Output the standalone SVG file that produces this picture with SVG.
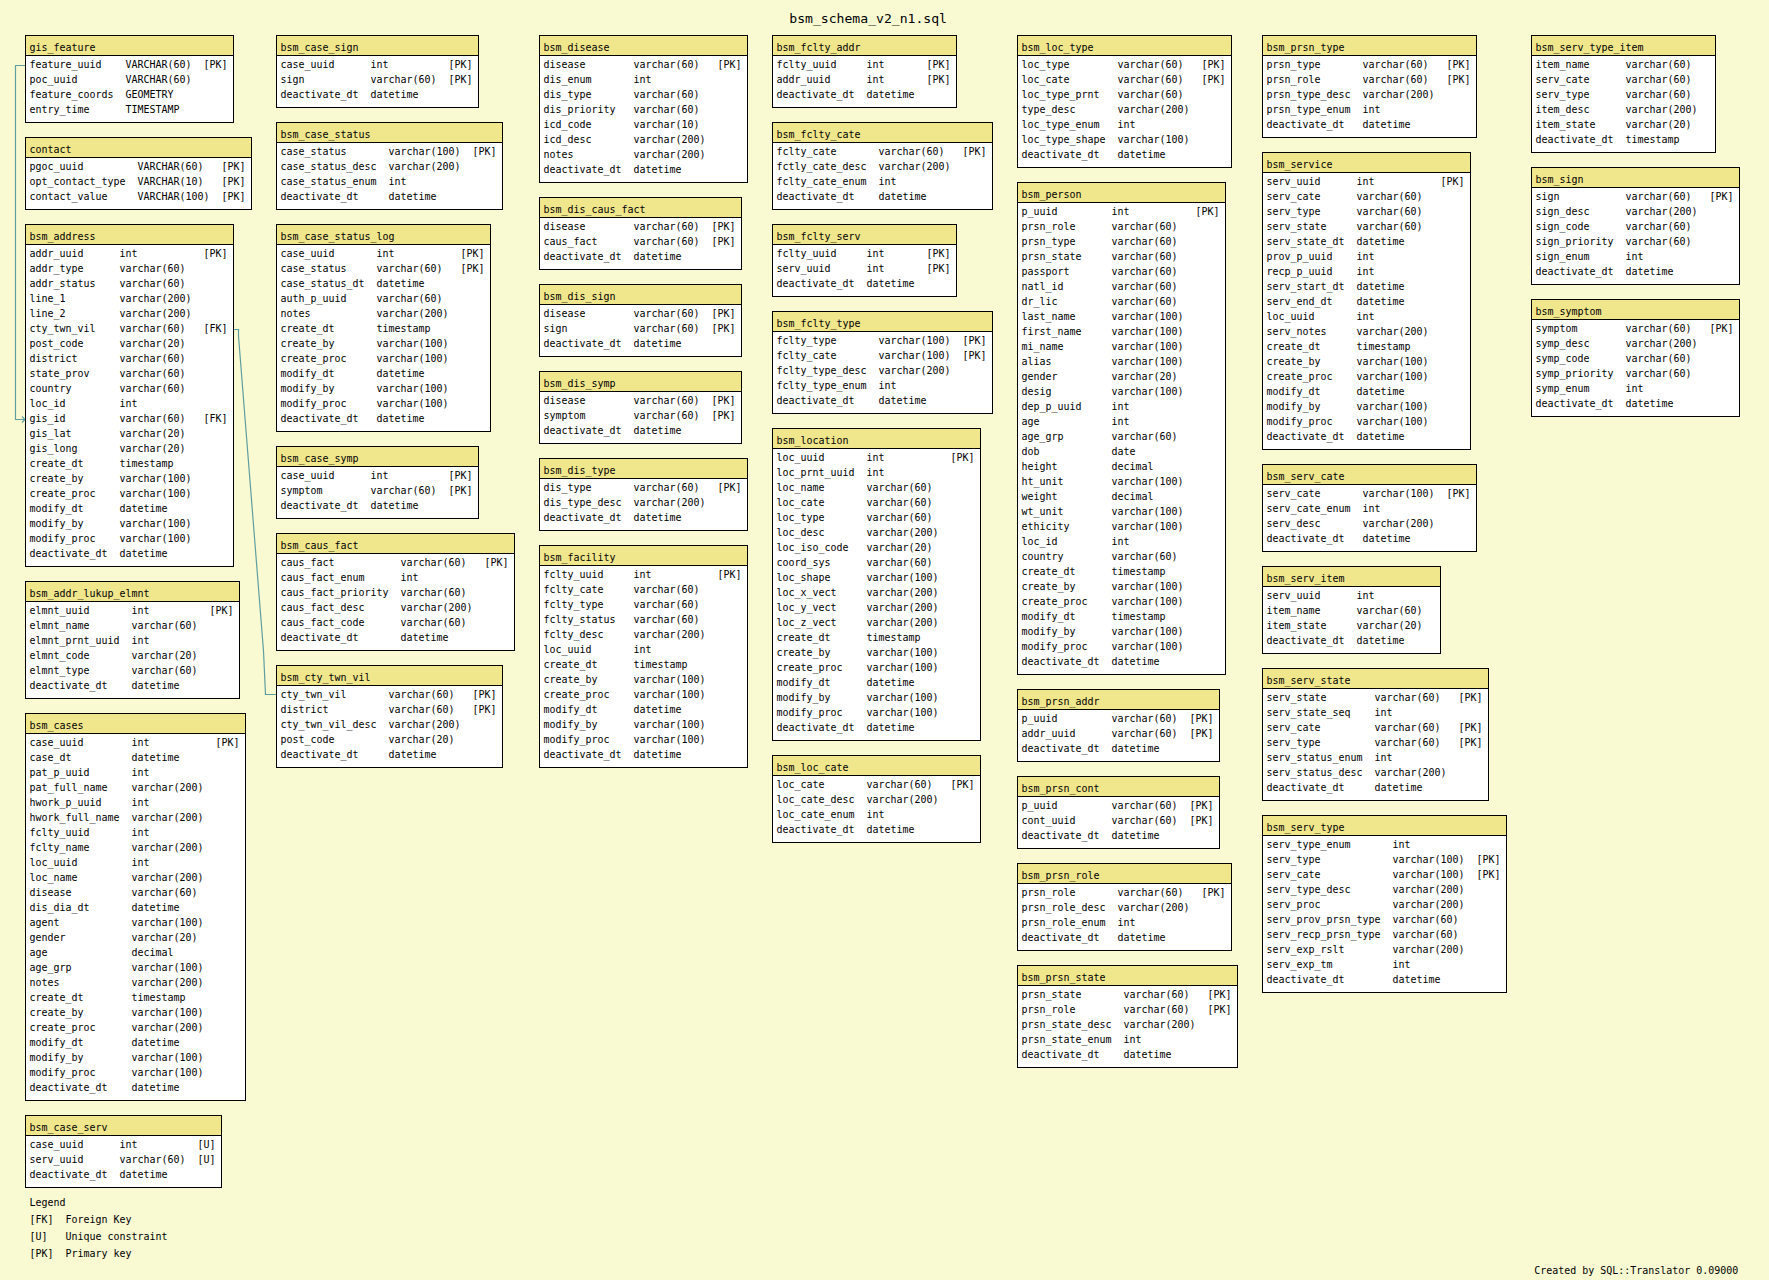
<svg xmlns="http://www.w3.org/2000/svg" width="1769" height="1280" viewBox="0 0 1769 1280">
<defs>
<style>
text{font-family:"DejaVu Sans Mono","Liberation Mono",monospace;font-size:9.97px;fill:#000}
.ttl{font-size:13.1px}
.b{fill:#fff;stroke:#000;stroke-width:1}
.h{fill:#f0e68c;stroke:#000;stroke-width:1}
.c{fill:none;stroke:#5f9ea0;stroke-width:1.2}
</style>
<marker id="ah" markerWidth="8" markerHeight="8" refX="4" refY="4" orient="auto" markerUnits="userSpaceOnUse"><path d="M1,1 L4,4 L1,7" fill="none" stroke="#5f9ea0" stroke-width="1.1"/></marker>
</defs>
<rect width="1769" height="1280" fill="#fafad2"/>
<text class="ttl" x="789.3" y="22.7">bsm_schema_v2_n1.sql</text>

<g id="connectors">
<path class="c" d="M25.5,65.5 H15.5 V419.5 H25" marker-end="url(#ah)"/>
<path class="c" d="M276.5,694.5 H265.5 L263.5,651 L238.5,336 V329.5 H231" marker-end="url(#ah)"/>
</g>

<!-- Column 1 -->
<g id="gis_feature" transform="translate(25.5,35.5)">
<rect class="b" width="208" height="87"/><rect class="h" width="208" height="20"/>
<text x="4" y="15.5">gis_feature</text>
<text y="32"><tspan x="4">feature_uuid</tspan><tspan x="100">VARCHAR(60)</tspan><tspan x="178">[PK]</tspan></text>
<text y="47"><tspan x="4">poc_uuid</tspan><tspan x="100">VARCHAR(60)</tspan></text>
<text y="62"><tspan x="4">feature_coords</tspan><tspan x="100">GEOMETRY</tspan></text>
<text y="77"><tspan x="4">entry_time</tspan><tspan x="100">TIMESTAMP</tspan></text>
</g>
<g id="contact" transform="translate(25.5,137.5)">
<rect class="b" width="226" height="72"/><rect class="h" width="226" height="20"/>
<text x="4" y="15.5">contact</text>
<text y="32"><tspan x="4">pgoc_uuid</tspan><tspan x="112">VARCHAR(60)</tspan><tspan x="196">[PK]</tspan></text>
<text y="47"><tspan x="4">opt_contact_type</tspan><tspan x="112">VARCHAR(10)</tspan><tspan x="196">[PK]</tspan></text>
<text y="62"><tspan x="4">contact_value</tspan><tspan x="112">VARCHAR(100)</tspan><tspan x="196">[PK]</tspan></text>
</g>
<g id="bsm_address" transform="translate(25.5,224.5)">
<rect class="b" width="208" height="342"/><rect class="h" width="208" height="20"/>
<text x="4" y="15.5">bsm_address</text>
<text y="32"><tspan x="4">addr_uuid</tspan><tspan x="94">int</tspan><tspan x="178">[PK]</tspan></text>
<text y="47"><tspan x="4">addr_type</tspan><tspan x="94">varchar(60)</tspan></text>
<text y="62"><tspan x="4">addr_status</tspan><tspan x="94">varchar(60)</tspan></text>
<text y="77"><tspan x="4">line_1</tspan><tspan x="94">varchar(200)</tspan></text>
<text y="92"><tspan x="4">line_2</tspan><tspan x="94">varchar(200)</tspan></text>
<text y="107"><tspan x="4">cty_twn_vil</tspan><tspan x="94">varchar(60)</tspan><tspan x="178">[FK]</tspan></text>
<text y="122"><tspan x="4">post_code</tspan><tspan x="94">varchar(20)</tspan></text>
<text y="137"><tspan x="4">district</tspan><tspan x="94">varchar(60)</tspan></text>
<text y="152"><tspan x="4">state_prov</tspan><tspan x="94">varchar(60)</tspan></text>
<text y="167"><tspan x="4">country</tspan><tspan x="94">varchar(60)</tspan></text>
<text y="182"><tspan x="4">loc_id</tspan><tspan x="94">int</tspan></text>
<text y="197"><tspan x="4">gis_id</tspan><tspan x="94">varchar(60)</tspan><tspan x="178">[FK]</tspan></text>
<text y="212"><tspan x="4">gis_lat</tspan><tspan x="94">varchar(20)</tspan></text>
<text y="227"><tspan x="4">gis_long</tspan><tspan x="94">varchar(20)</tspan></text>
<text y="242"><tspan x="4">create_dt</tspan><tspan x="94">timestamp</tspan></text>
<text y="257"><tspan x="4">create_by</tspan><tspan x="94">varchar(100)</tspan></text>
<text y="272"><tspan x="4">create_proc</tspan><tspan x="94">varchar(100)</tspan></text>
<text y="287"><tspan x="4">modify_dt</tspan><tspan x="94">datetime</tspan></text>
<text y="302"><tspan x="4">modify_by</tspan><tspan x="94">varchar(100)</tspan></text>
<text y="317"><tspan x="4">modify_proc</tspan><tspan x="94">varchar(100)</tspan></text>
<text y="332"><tspan x="4">deactivate_dt</tspan><tspan x="94">datetime</tspan></text>
</g>
<g id="bsm_addr_lukup_elmnt" transform="translate(25.5,581.5)">
<rect class="b" width="214" height="117"/><rect class="h" width="214" height="20"/>
<text x="4" y="15.5">bsm_addr_lukup_elmnt</text>
<text y="32"><tspan x="4">elmnt_uuid</tspan><tspan x="106">int</tspan><tspan x="184">[PK]</tspan></text>
<text y="47"><tspan x="4">elmnt_name</tspan><tspan x="106">varchar(60)</tspan></text>
<text y="62"><tspan x="4">elmnt_prnt_uuid</tspan><tspan x="106">int</tspan></text>
<text y="77"><tspan x="4">elmnt_code</tspan><tspan x="106">varchar(20)</tspan></text>
<text y="92"><tspan x="4">elmnt_type</tspan><tspan x="106">varchar(60)</tspan></text>
<text y="107"><tspan x="4">deactivate_dt</tspan><tspan x="106">datetime</tspan></text>
</g>
<g id="bsm_cases" transform="translate(25.5,713.5)">
<rect class="b" width="220" height="387"/><rect class="h" width="220" height="20"/>
<text x="4" y="15.5">bsm_cases</text>
<text y="32"><tspan x="4">case_uuid</tspan><tspan x="106">int</tspan><tspan x="190">[PK]</tspan></text>
<text y="47"><tspan x="4">case_dt</tspan><tspan x="106">datetime</tspan></text>
<text y="62"><tspan x="4">pat_p_uuid</tspan><tspan x="106">int</tspan></text>
<text y="77"><tspan x="4">pat_full_name</tspan><tspan x="106">varchar(200)</tspan></text>
<text y="92"><tspan x="4">hwork_p_uuid</tspan><tspan x="106">int</tspan></text>
<text y="107"><tspan x="4">hwork_full_name</tspan><tspan x="106">varchar(200)</tspan></text>
<text y="122"><tspan x="4">fclty_uuid</tspan><tspan x="106">int</tspan></text>
<text y="137"><tspan x="4">fclty_name</tspan><tspan x="106">varchar(200)</tspan></text>
<text y="152"><tspan x="4">loc_uuid</tspan><tspan x="106">int</tspan></text>
<text y="167"><tspan x="4">loc_name</tspan><tspan x="106">varchar(200)</tspan></text>
<text y="182"><tspan x="4">disease</tspan><tspan x="106">varchar(60)</tspan></text>
<text y="197"><tspan x="4">dis_dia_dt</tspan><tspan x="106">datetime</tspan></text>
<text y="212"><tspan x="4">agent</tspan><tspan x="106">varchar(100)</tspan></text>
<text y="227"><tspan x="4">gender</tspan><tspan x="106">varchar(20)</tspan></text>
<text y="242"><tspan x="4">age</tspan><tspan x="106">decimal</tspan></text>
<text y="257"><tspan x="4">age_grp</tspan><tspan x="106">varchar(100)</tspan></text>
<text y="272"><tspan x="4">notes</tspan><tspan x="106">varchar(200)</tspan></text>
<text y="287"><tspan x="4">create_dt</tspan><tspan x="106">timestamp</tspan></text>
<text y="302"><tspan x="4">create_by</tspan><tspan x="106">varchar(100)</tspan></text>
<text y="317"><tspan x="4">create_proc</tspan><tspan x="106">varchar(200)</tspan></text>
<text y="332"><tspan x="4">modify_dt</tspan><tspan x="106">datetime</tspan></text>
<text y="347"><tspan x="4">modify_by</tspan><tspan x="106">varchar(100)</tspan></text>
<text y="362"><tspan x="4">modify_proc</tspan><tspan x="106">varchar(100)</tspan></text>
<text y="377"><tspan x="4">deactivate_dt</tspan><tspan x="106">datetime</tspan></text>
</g>
<g id="bsm_case_serv" transform="translate(25.5,1115.5)">
<rect class="b" width="196" height="72"/><rect class="h" width="196" height="20"/>
<text x="4" y="15.5">bsm_case_serv</text>
<text y="32"><tspan x="4">case_uuid</tspan><tspan x="94">int</tspan><tspan x="172">[U]</tspan></text>
<text y="47"><tspan x="4">serv_uuid</tspan><tspan x="94">varchar(60)</tspan><tspan x="172">[U]</tspan></text>
<text y="62"><tspan x="4">deactivate_dt</tspan><tspan x="94">datetime</tspan></text>
</g>
<g id="legend">
<text x="29.5" y="1205.5">Legend</text>
<text y="1222.5"><tspan x="29.5">[FK]</tspan><tspan x="65.5">Foreign Key</tspan></text>
<text y="1239.5"><tspan x="29.5">[U]</tspan><tspan x="65.5">Unique constraint</tspan></text>
<text y="1256.5"><tspan x="29.5">[PK]</tspan><tspan x="65.5">Primary key</tspan></text>
</g>

<!-- Column 2 -->
<g id="bsm_case_sign" transform="translate(276.5,35.5)">
<rect class="b" width="202" height="72"/><rect class="h" width="202" height="20"/>
<text x="4" y="15.5">bsm_case_sign</text>
<text y="32"><tspan x="4">case_uuid</tspan><tspan x="94">int</tspan><tspan x="172">[PK]</tspan></text>
<text y="47"><tspan x="4">sign</tspan><tspan x="94">varchar(60)</tspan><tspan x="172">[PK]</tspan></text>
<text y="62"><tspan x="4">deactivate_dt</tspan><tspan x="94">datetime</tspan></text>
</g>
<g id="bsm_case_status" transform="translate(276.5,122.5)">
<rect class="b" width="226" height="87"/><rect class="h" width="226" height="20"/>
<text x="4" y="15.5">bsm_case_status</text>
<text y="32"><tspan x="4">case_status</tspan><tspan x="112">varchar(100)</tspan><tspan x="196">[PK]</tspan></text>
<text y="47"><tspan x="4">case_status_desc</tspan><tspan x="112">varchar(200)</tspan></text>
<text y="62"><tspan x="4">case_status_enum</tspan><tspan x="112">int</tspan></text>
<text y="77"><tspan x="4">deactivate_dt</tspan><tspan x="112">datetime</tspan></text>
</g>
<g id="bsm_case_status_log" transform="translate(276.5,224.5)">
<rect class="b" width="214" height="207"/><rect class="h" width="214" height="20"/>
<text x="4" y="15.5">bsm_case_status_log</text>
<text y="32"><tspan x="4">case_uuid</tspan><tspan x="100">int</tspan><tspan x="184">[PK]</tspan></text>
<text y="47"><tspan x="4">case_status</tspan><tspan x="100">varchar(60)</tspan><tspan x="184">[PK]</tspan></text>
<text y="62"><tspan x="4">case_status_dt</tspan><tspan x="100">datetime</tspan></text>
<text y="77"><tspan x="4">auth_p_uuid</tspan><tspan x="100">varchar(60)</tspan></text>
<text y="92"><tspan x="4">notes</tspan><tspan x="100">varchar(200)</tspan></text>
<text y="107"><tspan x="4">create_dt</tspan><tspan x="100">timestamp</tspan></text>
<text y="122"><tspan x="4">create_by</tspan><tspan x="100">varchar(100)</tspan></text>
<text y="137"><tspan x="4">create_proc</tspan><tspan x="100">varchar(100)</tspan></text>
<text y="152"><tspan x="4">modify_dt</tspan><tspan x="100">datetime</tspan></text>
<text y="167"><tspan x="4">modify_by</tspan><tspan x="100">varchar(100)</tspan></text>
<text y="182"><tspan x="4">modify_proc</tspan><tspan x="100">varchar(100)</tspan></text>
<text y="197"><tspan x="4">deactivate_dt</tspan><tspan x="100">datetime</tspan></text>
</g>
<g id="bsm_case_symp" transform="translate(276.5,446.5)">
<rect class="b" width="202" height="72"/><rect class="h" width="202" height="20"/>
<text x="4" y="15.5">bsm_case_symp</text>
<text y="32"><tspan x="4">case_uuid</tspan><tspan x="94">int</tspan><tspan x="172">[PK]</tspan></text>
<text y="47"><tspan x="4">symptom</tspan><tspan x="94">varchar(60)</tspan><tspan x="172">[PK]</tspan></text>
<text y="62"><tspan x="4">deactivate_dt</tspan><tspan x="94">datetime</tspan></text>
</g>
<g id="bsm_caus_fact" transform="translate(276.5,533.5)">
<rect class="b" width="238" height="117"/><rect class="h" width="238" height="20"/>
<text x="4" y="15.5">bsm_caus_fact</text>
<text y="32"><tspan x="4">caus_fact</tspan><tspan x="124">varchar(60)</tspan><tspan x="208">[PK]</tspan></text>
<text y="47"><tspan x="4">caus_fact_enum</tspan><tspan x="124">int</tspan></text>
<text y="62"><tspan x="4">caus_fact_priority</tspan><tspan x="124">varchar(60)</tspan></text>
<text y="77"><tspan x="4">caus_fact_desc</tspan><tspan x="124">varchar(200)</tspan></text>
<text y="92"><tspan x="4">caus_fact_code</tspan><tspan x="124">varchar(60)</tspan></text>
<text y="107"><tspan x="4">deactivate_dt</tspan><tspan x="124">datetime</tspan></text>
</g>
<g id="bsm_cty_twn_vil" transform="translate(276.5,665.5)">
<rect class="b" width="226" height="102"/><rect class="h" width="226" height="20"/>
<text x="4" y="15.5">bsm_cty_twn_vil</text>
<text y="32"><tspan x="4">cty_twn_vil</tspan><tspan x="112">varchar(60)</tspan><tspan x="196">[PK]</tspan></text>
<text y="47"><tspan x="4">district</tspan><tspan x="112">varchar(60)</tspan><tspan x="196">[PK]</tspan></text>
<text y="62"><tspan x="4">cty_twn_vil_desc</tspan><tspan x="112">varchar(200)</tspan></text>
<text y="77"><tspan x="4">post_code</tspan><tspan x="112">varchar(20)</tspan></text>
<text y="92"><tspan x="4">deactivate_dt</tspan><tspan x="112">datetime</tspan></text>
</g>

<!-- Column 3 -->
<g id="bsm_disease" transform="translate(539.5,35.5)">
<rect class="b" width="208" height="147"/><rect class="h" width="208" height="20"/>
<text x="4" y="15.5">bsm_disease</text>
<text y="32"><tspan x="4">disease</tspan><tspan x="94">varchar(60)</tspan><tspan x="178">[PK]</tspan></text>
<text y="47"><tspan x="4">dis_enum</tspan><tspan x="94">int</tspan></text>
<text y="62"><tspan x="4">dis_type</tspan><tspan x="94">varchar(60)</tspan></text>
<text y="77"><tspan x="4">dis_priority</tspan><tspan x="94">varchar(60)</tspan></text>
<text y="92"><tspan x="4">icd_code</tspan><tspan x="94">varchar(10)</tspan></text>
<text y="107"><tspan x="4">icd_desc</tspan><tspan x="94">varchar(200)</tspan></text>
<text y="122"><tspan x="4">notes</tspan><tspan x="94">varchar(200)</tspan></text>
<text y="137"><tspan x="4">deactivate_dt</tspan><tspan x="94">datetime</tspan></text>
</g>
<g id="bsm_dis_caus_fact" transform="translate(539.5,197.5)">
<rect class="b" width="202" height="72"/><rect class="h" width="202" height="20"/>
<text x="4" y="15.5">bsm_dis_caus_fact</text>
<text y="32"><tspan x="4">disease</tspan><tspan x="94">varchar(60)</tspan><tspan x="172">[PK]</tspan></text>
<text y="47"><tspan x="4">caus_fact</tspan><tspan x="94">varchar(60)</tspan><tspan x="172">[PK]</tspan></text>
<text y="62"><tspan x="4">deactivate_dt</tspan><tspan x="94">datetime</tspan></text>
</g>
<g id="bsm_dis_sign" transform="translate(539.5,284.5)">
<rect class="b" width="202" height="72"/><rect class="h" width="202" height="20"/>
<text x="4" y="15.5">bsm_dis_sign</text>
<text y="32"><tspan x="4">disease</tspan><tspan x="94">varchar(60)</tspan><tspan x="172">[PK]</tspan></text>
<text y="47"><tspan x="4">sign</tspan><tspan x="94">varchar(60)</tspan><tspan x="172">[PK]</tspan></text>
<text y="62"><tspan x="4">deactivate_dt</tspan><tspan x="94">datetime</tspan></text>
</g>
<g id="bsm_dis_symp" transform="translate(539.5,371.5)">
<rect class="b" width="202" height="72"/><rect class="h" width="202" height="20"/>
<text x="4" y="15.5">bsm_dis_symp</text>
<text y="32"><tspan x="4">disease</tspan><tspan x="94">varchar(60)</tspan><tspan x="172">[PK]</tspan></text>
<text y="47"><tspan x="4">symptom</tspan><tspan x="94">varchar(60)</tspan><tspan x="172">[PK]</tspan></text>
<text y="62"><tspan x="4">deactivate_dt</tspan><tspan x="94">datetime</tspan></text>
</g>
<g id="bsm_dis_type" transform="translate(539.5,458.5)">
<rect class="b" width="208" height="72"/><rect class="h" width="208" height="20"/>
<text x="4" y="15.5">bsm_dis_type</text>
<text y="32"><tspan x="4">dis_type</tspan><tspan x="94">varchar(60)</tspan><tspan x="178">[PK]</tspan></text>
<text y="47"><tspan x="4">dis_type_desc</tspan><tspan x="94">varchar(200)</tspan></text>
<text y="62"><tspan x="4">deactivate_dt</tspan><tspan x="94">datetime</tspan></text>
</g>
<g id="bsm_facility" transform="translate(539.5,545.5)">
<rect class="b" width="208" height="222"/><rect class="h" width="208" height="20"/>
<text x="4" y="15.5">bsm_facility</text>
<text y="32"><tspan x="4">fclty_uuid</tspan><tspan x="94">int</tspan><tspan x="178">[PK]</tspan></text>
<text y="47"><tspan x="4">fclty_cate</tspan><tspan x="94">varchar(60)</tspan></text>
<text y="62"><tspan x="4">fclty_type</tspan><tspan x="94">varchar(60)</tspan></text>
<text y="77"><tspan x="4">fclty_status</tspan><tspan x="94">varchar(60)</tspan></text>
<text y="92"><tspan x="4">fclty_desc</tspan><tspan x="94">varchar(200)</tspan></text>
<text y="107"><tspan x="4">loc_uuid</tspan><tspan x="94">int</tspan></text>
<text y="122"><tspan x="4">create_dt</tspan><tspan x="94">timestamp</tspan></text>
<text y="137"><tspan x="4">create_by</tspan><tspan x="94">varchar(100)</tspan></text>
<text y="152"><tspan x="4">create_proc</tspan><tspan x="94">varchar(100)</tspan></text>
<text y="167"><tspan x="4">modify_dt</tspan><tspan x="94">datetime</tspan></text>
<text y="182"><tspan x="4">modify_by</tspan><tspan x="94">varchar(100)</tspan></text>
<text y="197"><tspan x="4">modify_proc</tspan><tspan x="94">varchar(100)</tspan></text>
<text y="212"><tspan x="4">deactivate_dt</tspan><tspan x="94">datetime</tspan></text>
</g>

<!-- Column 4 -->
<g id="bsm_fclty_addr" transform="translate(772.5,35.5)">
<rect class="b" width="184" height="72"/><rect class="h" width="184" height="20"/>
<text x="4" y="15.5">bsm_fclty_addr</text>
<text y="32"><tspan x="4">fclty_uuid</tspan><tspan x="94">int</tspan><tspan x="154">[PK]</tspan></text>
<text y="47"><tspan x="4">addr_uuid</tspan><tspan x="94">int</tspan><tspan x="154">[PK]</tspan></text>
<text y="62"><tspan x="4">deactivate_dt</tspan><tspan x="94">datetime</tspan></text>
</g>
<g id="bsm_fclty_cate" transform="translate(772.5,122.5)">
<rect class="b" width="220" height="87"/><rect class="h" width="220" height="20"/>
<text x="4" y="15.5">bsm_fclty_cate</text>
<text y="32"><tspan x="4">fclty_cate</tspan><tspan x="106">varchar(60)</tspan><tspan x="190">[PK]</tspan></text>
<text y="47"><tspan x="4">fctly_cate_desc</tspan><tspan x="106">varchar(200)</tspan></text>
<text y="62"><tspan x="4">fclty_cate_enum</tspan><tspan x="106">int</tspan></text>
<text y="77"><tspan x="4">deactivate_dt</tspan><tspan x="106">datetime</tspan></text>
</g>
<g id="bsm_fclty_serv" transform="translate(772.5,224.5)">
<rect class="b" width="184" height="72"/><rect class="h" width="184" height="20"/>
<text x="4" y="15.5">bsm_fclty_serv</text>
<text y="32"><tspan x="4">fclty_uuid</tspan><tspan x="94">int</tspan><tspan x="154">[PK]</tspan></text>
<text y="47"><tspan x="4">serv_uuid</tspan><tspan x="94">int</tspan><tspan x="154">[PK]</tspan></text>
<text y="62"><tspan x="4">deactivate_dt</tspan><tspan x="94">datetime</tspan></text>
</g>
<g id="bsm_fclty_type" transform="translate(772.5,311.5)">
<rect class="b" width="220" height="102"/><rect class="h" width="220" height="20"/>
<text x="4" y="15.5">bsm_fclty_type</text>
<text y="32"><tspan x="4">fclty_type</tspan><tspan x="106">varchar(100)</tspan><tspan x="190">[PK]</tspan></text>
<text y="47"><tspan x="4">fclty_cate</tspan><tspan x="106">varchar(100)</tspan><tspan x="190">[PK]</tspan></text>
<text y="62"><tspan x="4">fclty_type_desc</tspan><tspan x="106">varchar(200)</tspan></text>
<text y="77"><tspan x="4">fclty_type_enum</tspan><tspan x="106">int</tspan></text>
<text y="92"><tspan x="4">deactivate_dt</tspan><tspan x="106">datetime</tspan></text>
</g>
<g id="bsm_location" transform="translate(772.5,428.5)">
<rect class="b" width="208" height="312"/><rect class="h" width="208" height="20"/>
<text x="4" y="15.5">bsm_location</text>
<text y="32"><tspan x="4">loc_uuid</tspan><tspan x="94">int</tspan><tspan x="178">[PK]</tspan></text>
<text y="47"><tspan x="4">loc_prnt_uuid</tspan><tspan x="94">int</tspan></text>
<text y="62"><tspan x="4">loc_name</tspan><tspan x="94">varchar(60)</tspan></text>
<text y="77"><tspan x="4">loc_cate</tspan><tspan x="94">varchar(60)</tspan></text>
<text y="92"><tspan x="4">loc_type</tspan><tspan x="94">varchar(60)</tspan></text>
<text y="107"><tspan x="4">loc_desc</tspan><tspan x="94">varchar(200)</tspan></text>
<text y="122"><tspan x="4">loc_iso_code</tspan><tspan x="94">varchar(20)</tspan></text>
<text y="137"><tspan x="4">coord_sys</tspan><tspan x="94">varchar(60)</tspan></text>
<text y="152"><tspan x="4">loc_shape</tspan><tspan x="94">varchar(100)</tspan></text>
<text y="167"><tspan x="4">loc_x_vect</tspan><tspan x="94">varchar(200)</tspan></text>
<text y="182"><tspan x="4">loc_y_vect</tspan><tspan x="94">varchar(200)</tspan></text>
<text y="197"><tspan x="4">loc_z_vect</tspan><tspan x="94">varchar(200)</tspan></text>
<text y="212"><tspan x="4">create_dt</tspan><tspan x="94">timestamp</tspan></text>
<text y="227"><tspan x="4">create_by</tspan><tspan x="94">varchar(100)</tspan></text>
<text y="242"><tspan x="4">create_proc</tspan><tspan x="94">varchar(100)</tspan></text>
<text y="257"><tspan x="4">modify_dt</tspan><tspan x="94">datetime</tspan></text>
<text y="272"><tspan x="4">modify_by</tspan><tspan x="94">varchar(100)</tspan></text>
<text y="287"><tspan x="4">modify_proc</tspan><tspan x="94">varchar(100)</tspan></text>
<text y="302"><tspan x="4">deactivate_dt</tspan><tspan x="94">datetime</tspan></text>
</g>
<g id="bsm_loc_cate" transform="translate(772.5,755.5)">
<rect class="b" width="208" height="87"/><rect class="h" width="208" height="20"/>
<text x="4" y="15.5">bsm_loc_cate</text>
<text y="32"><tspan x="4">loc_cate</tspan><tspan x="94">varchar(60)</tspan><tspan x="178">[PK]</tspan></text>
<text y="47"><tspan x="4">loc_cate_desc</tspan><tspan x="94">varchar(200)</tspan></text>
<text y="62"><tspan x="4">loc_cate_enum</tspan><tspan x="94">int</tspan></text>
<text y="77"><tspan x="4">deactivate_dt</tspan><tspan x="94">datetime</tspan></text>
</g>

<!-- Column 5 -->
<g id="bsm_loc_type" transform="translate(1017.5,35.5)">
<rect class="b" width="214" height="132"/><rect class="h" width="214" height="20"/>
<text x="4" y="15.5">bsm_loc_type</text>
<text y="32"><tspan x="4">loc_type</tspan><tspan x="100">varchar(60)</tspan><tspan x="184">[PK]</tspan></text>
<text y="47"><tspan x="4">loc_cate</tspan><tspan x="100">varchar(60)</tspan><tspan x="184">[PK]</tspan></text>
<text y="62"><tspan x="4">loc_type_prnt</tspan><tspan x="100">varchar(60)</tspan></text>
<text y="77"><tspan x="4">type_desc</tspan><tspan x="100">varchar(200)</tspan></text>
<text y="92"><tspan x="4">loc_type_enum</tspan><tspan x="100">int</tspan></text>
<text y="107"><tspan x="4">loc_type_shape</tspan><tspan x="100">varchar(100)</tspan></text>
<text y="122"><tspan x="4">deactivate_dt</tspan><tspan x="100">datetime</tspan></text>
</g>
<g id="bsm_person" transform="translate(1017.5,182.5)">
<rect class="b" width="208" height="492"/><rect class="h" width="208" height="20"/>
<text x="4" y="15.5">bsm_person</text>
<text y="32"><tspan x="4">p_uuid</tspan><tspan x="94">int</tspan><tspan x="178">[PK]</tspan></text>
<text y="47"><tspan x="4">prsn_role</tspan><tspan x="94">varchar(60)</tspan></text>
<text y="62"><tspan x="4">prsn_type</tspan><tspan x="94">varchar(60)</tspan></text>
<text y="77"><tspan x="4">prsn_state</tspan><tspan x="94">varchar(60)</tspan></text>
<text y="92"><tspan x="4">passport</tspan><tspan x="94">varchar(60)</tspan></text>
<text y="107"><tspan x="4">natl_id</tspan><tspan x="94">varchar(60)</tspan></text>
<text y="122"><tspan x="4">dr_lic</tspan><tspan x="94">varchar(60)</tspan></text>
<text y="137"><tspan x="4">last_name</tspan><tspan x="94">varchar(100)</tspan></text>
<text y="152"><tspan x="4">first_name</tspan><tspan x="94">varchar(100)</tspan></text>
<text y="167"><tspan x="4">mi_name</tspan><tspan x="94">varchar(100)</tspan></text>
<text y="182"><tspan x="4">alias</tspan><tspan x="94">varchar(100)</tspan></text>
<text y="197"><tspan x="4">gender</tspan><tspan x="94">varchar(20)</tspan></text>
<text y="212"><tspan x="4">desig</tspan><tspan x="94">varchar(100)</tspan></text>
<text y="227"><tspan x="4">dep_p_uuid</tspan><tspan x="94">int</tspan></text>
<text y="242"><tspan x="4">age</tspan><tspan x="94">int</tspan></text>
<text y="257"><tspan x="4">age_grp</tspan><tspan x="94">varchar(60)</tspan></text>
<text y="272"><tspan x="4">dob</tspan><tspan x="94">date</tspan></text>
<text y="287"><tspan x="4">height</tspan><tspan x="94">decimal</tspan></text>
<text y="302"><tspan x="4">ht_unit</tspan><tspan x="94">varchar(100)</tspan></text>
<text y="317"><tspan x="4">weight</tspan><tspan x="94">decimal</tspan></text>
<text y="332"><tspan x="4">wt_unit</tspan><tspan x="94">varchar(100)</tspan></text>
<text y="347"><tspan x="4">ethicity</tspan><tspan x="94">varchar(100)</tspan></text>
<text y="362"><tspan x="4">loc_id</tspan><tspan x="94">int</tspan></text>
<text y="377"><tspan x="4">country</tspan><tspan x="94">varchar(60)</tspan></text>
<text y="392"><tspan x="4">create_dt</tspan><tspan x="94">timestamp</tspan></text>
<text y="407"><tspan x="4">create_by</tspan><tspan x="94">varchar(100)</tspan></text>
<text y="422"><tspan x="4">create_proc</tspan><tspan x="94">varchar(100)</tspan></text>
<text y="437"><tspan x="4">modify_dt</tspan><tspan x="94">timestamp</tspan></text>
<text y="452"><tspan x="4">modify_by</tspan><tspan x="94">varchar(100)</tspan></text>
<text y="467"><tspan x="4">modify_proc</tspan><tspan x="94">varchar(100)</tspan></text>
<text y="482"><tspan x="4">deactivate_dt</tspan><tspan x="94">datetime</tspan></text>
</g>
<g id="bsm_prsn_addr" transform="translate(1017.5,689.5)">
<rect class="b" width="202" height="72"/><rect class="h" width="202" height="20"/>
<text x="4" y="15.5">bsm_prsn_addr</text>
<text y="32"><tspan x="4">p_uuid</tspan><tspan x="94">varchar(60)</tspan><tspan x="172">[PK]</tspan></text>
<text y="47"><tspan x="4">addr_uuid</tspan><tspan x="94">varchar(60)</tspan><tspan x="172">[PK]</tspan></text>
<text y="62"><tspan x="4">deactivate_dt</tspan><tspan x="94">datetime</tspan></text>
</g>
<g id="bsm_prsn_cont" transform="translate(1017.5,776.5)">
<rect class="b" width="202" height="72"/><rect class="h" width="202" height="20"/>
<text x="4" y="15.5">bsm_prsn_cont</text>
<text y="32"><tspan x="4">p_uuid</tspan><tspan x="94">varchar(60)</tspan><tspan x="172">[PK]</tspan></text>
<text y="47"><tspan x="4">cont_uuid</tspan><tspan x="94">varchar(60)</tspan><tspan x="172">[PK]</tspan></text>
<text y="62"><tspan x="4">deactivate_dt</tspan><tspan x="94">datetime</tspan></text>
</g>
<g id="bsm_prsn_role" transform="translate(1017.5,863.5)">
<rect class="b" width="214" height="87"/><rect class="h" width="214" height="20"/>
<text x="4" y="15.5">bsm_prsn_role</text>
<text y="32"><tspan x="4">prsn_role</tspan><tspan x="100">varchar(60)</tspan><tspan x="184">[PK]</tspan></text>
<text y="47"><tspan x="4">prsn_role_desc</tspan><tspan x="100">varchar(200)</tspan></text>
<text y="62"><tspan x="4">prsn_role_enum</tspan><tspan x="100">int</tspan></text>
<text y="77"><tspan x="4">deactivate_dt</tspan><tspan x="100">datetime</tspan></text>
</g>
<g id="bsm_prsn_state" transform="translate(1017.5,965.5)">
<rect class="b" width="220" height="102"/><rect class="h" width="220" height="20"/>
<text x="4" y="15.5">bsm_prsn_state</text>
<text y="32"><tspan x="4">prsn_state</tspan><tspan x="106">varchar(60)</tspan><tspan x="190">[PK]</tspan></text>
<text y="47"><tspan x="4">prsn_role</tspan><tspan x="106">varchar(60)</tspan><tspan x="190">[PK]</tspan></text>
<text y="62"><tspan x="4">prsn_state_desc</tspan><tspan x="106">varchar(200)</tspan></text>
<text y="77"><tspan x="4">prsn_state_enum</tspan><tspan x="106">int</tspan></text>
<text y="92"><tspan x="4">deactivate_dt</tspan><tspan x="106">datetime</tspan></text>
</g>

<!-- Column 6 -->
<g id="bsm_prsn_type" transform="translate(1262.5,35.5)">
<rect class="b" width="214" height="102"/><rect class="h" width="214" height="20"/>
<text x="4" y="15.5">bsm_prsn_type</text>
<text y="32"><tspan x="4">prsn_type</tspan><tspan x="100">varchar(60)</tspan><tspan x="184">[PK]</tspan></text>
<text y="47"><tspan x="4">prsn_role</tspan><tspan x="100">varchar(60)</tspan><tspan x="184">[PK]</tspan></text>
<text y="62"><tspan x="4">prsn_type_desc</tspan><tspan x="100">varchar(200)</tspan></text>
<text y="77"><tspan x="4">prsn_type_enum</tspan><tspan x="100">int</tspan></text>
<text y="92"><tspan x="4">deactivate_dt</tspan><tspan x="100">datetime</tspan></text>
</g>
<g id="bsm_service" transform="translate(1262.5,152.5)">
<rect class="b" width="208" height="297"/><rect class="h" width="208" height="20"/>
<text x="4" y="15.5">bsm_service</text>
<text y="32"><tspan x="4">serv_uuid</tspan><tspan x="94">int</tspan><tspan x="178">[PK]</tspan></text>
<text y="47"><tspan x="4">serv_cate</tspan><tspan x="94">varchar(60)</tspan></text>
<text y="62"><tspan x="4">serv_type</tspan><tspan x="94">varchar(60)</tspan></text>
<text y="77"><tspan x="4">serv_state</tspan><tspan x="94">varchar(60)</tspan></text>
<text y="92"><tspan x="4">serv_state_dt</tspan><tspan x="94">datetime</tspan></text>
<text y="107"><tspan x="4">prov_p_uuid</tspan><tspan x="94">int</tspan></text>
<text y="122"><tspan x="4">recp_p_uuid</tspan><tspan x="94">int</tspan></text>
<text y="137"><tspan x="4">serv_start_dt</tspan><tspan x="94">datetime</tspan></text>
<text y="152"><tspan x="4">serv_end_dt</tspan><tspan x="94">datetime</tspan></text>
<text y="167"><tspan x="4">loc_uuid</tspan><tspan x="94">int</tspan></text>
<text y="182"><tspan x="4">serv_notes</tspan><tspan x="94">varchar(200)</tspan></text>
<text y="197"><tspan x="4">create_dt</tspan><tspan x="94">timestamp</tspan></text>
<text y="212"><tspan x="4">create_by</tspan><tspan x="94">varchar(100)</tspan></text>
<text y="227"><tspan x="4">create_proc</tspan><tspan x="94">varchar(100)</tspan></text>
<text y="242"><tspan x="4">modify_dt</tspan><tspan x="94">datetime</tspan></text>
<text y="257"><tspan x="4">modify_by</tspan><tspan x="94">varchar(100)</tspan></text>
<text y="272"><tspan x="4">modify_proc</tspan><tspan x="94">varchar(100)</tspan></text>
<text y="287"><tspan x="4">deactivate_dt</tspan><tspan x="94">datetime</tspan></text>
</g>
<g id="bsm_serv_cate" transform="translate(1262.5,464.5)">
<rect class="b" width="214" height="87"/><rect class="h" width="214" height="20"/>
<text x="4" y="15.5">bsm_serv_cate</text>
<text y="32"><tspan x="4">serv_cate</tspan><tspan x="100">varchar(100)</tspan><tspan x="184">[PK]</tspan></text>
<text y="47"><tspan x="4">serv_cate_enum</tspan><tspan x="100">int</tspan></text>
<text y="62"><tspan x="4">serv_desc</tspan><tspan x="100">varchar(200)</tspan></text>
<text y="77"><tspan x="4">deactivate_dt</tspan><tspan x="100">datetime</tspan></text>
</g>
<g id="bsm_serv_item" transform="translate(1262.5,566.5)">
<rect class="b" width="178" height="87"/><rect class="h" width="178" height="20"/>
<text x="4" y="15.5">bsm_serv_item</text>
<text y="32"><tspan x="4">serv_uuid</tspan><tspan x="94">int</tspan></text>
<text y="47"><tspan x="4">item_name</tspan><tspan x="94">varchar(60)</tspan></text>
<text y="62"><tspan x="4">item_state</tspan><tspan x="94">varchar(20)</tspan></text>
<text y="77"><tspan x="4">deactivate_dt</tspan><tspan x="94">datetime</tspan></text>
</g>
<g id="bsm_serv_state" transform="translate(1262.5,668.5)">
<rect class="b" width="226" height="132"/><rect class="h" width="226" height="20"/>
<text x="4" y="15.5">bsm_serv_state</text>
<text y="32"><tspan x="4">serv_state</tspan><tspan x="112">varchar(60)</tspan><tspan x="196">[PK]</tspan></text>
<text y="47"><tspan x="4">serv_state_seq</tspan><tspan x="112">int</tspan></text>
<text y="62"><tspan x="4">serv_cate</tspan><tspan x="112">varchar(60)</tspan><tspan x="196">[PK]</tspan></text>
<text y="77"><tspan x="4">serv_type</tspan><tspan x="112">varchar(60)</tspan><tspan x="196">[PK]</tspan></text>
<text y="92"><tspan x="4">serv_status_enum</tspan><tspan x="112">int</tspan></text>
<text y="107"><tspan x="4">serv_status_desc</tspan><tspan x="112">varchar(200)</tspan></text>
<text y="122"><tspan x="4">deactivate_dt</tspan><tspan x="112">datetime</tspan></text>
</g>
<g id="bsm_serv_type" transform="translate(1262.5,815.5)">
<rect class="b" width="244" height="177"/><rect class="h" width="244" height="20"/>
<text x="4" y="15.5">bsm_serv_type</text>
<text y="32"><tspan x="4">serv_type_enum</tspan><tspan x="130">int</tspan></text>
<text y="47"><tspan x="4">serv_type</tspan><tspan x="130">varchar(100)</tspan><tspan x="214">[PK]</tspan></text>
<text y="62"><tspan x="4">serv_cate</tspan><tspan x="130">varchar(100)</tspan><tspan x="214">[PK]</tspan></text>
<text y="77"><tspan x="4">serv_type_desc</tspan><tspan x="130">varchar(200)</tspan></text>
<text y="92"><tspan x="4">serv_proc</tspan><tspan x="130">varchar(200)</tspan></text>
<text y="107"><tspan x="4">serv_prov_prsn_type</tspan><tspan x="130">varchar(60)</tspan></text>
<text y="122"><tspan x="4">serv_recp_prsn_type</tspan><tspan x="130">varchar(60)</tspan></text>
<text y="137"><tspan x="4">serv_exp_rslt</tspan><tspan x="130">varchar(200)</tspan></text>
<text y="152"><tspan x="4">serv_exp_tm</tspan><tspan x="130">int</tspan></text>
<text y="167"><tspan x="4">deactivate_dt</tspan><tspan x="130">datetime</tspan></text>
</g>

<!-- Column 7 -->
<g id="bsm_serv_type_item" transform="translate(1531.5,35.5)">
<rect class="b" width="184" height="117"/><rect class="h" width="184" height="20"/>
<text x="4" y="15.5">bsm_serv_type_item</text>
<text y="32"><tspan x="4">item_name</tspan><tspan x="94">varchar(60)</tspan></text>
<text y="47"><tspan x="4">serv_cate</tspan><tspan x="94">varchar(60)</tspan></text>
<text y="62"><tspan x="4">serv_type</tspan><tspan x="94">varchar(60)</tspan></text>
<text y="77"><tspan x="4">item_desc</tspan><tspan x="94">varchar(200)</tspan></text>
<text y="92"><tspan x="4">item_state</tspan><tspan x="94">varchar(20)</tspan></text>
<text y="107"><tspan x="4">deactivate_dt</tspan><tspan x="94">timestamp</tspan></text>
</g>
<g id="bsm_sign" transform="translate(1531.5,167.5)">
<rect class="b" width="208" height="117"/><rect class="h" width="208" height="20"/>
<text x="4" y="15.5">bsm_sign</text>
<text y="32"><tspan x="4">sign</tspan><tspan x="94">varchar(60)</tspan><tspan x="178">[PK]</tspan></text>
<text y="47"><tspan x="4">sign_desc</tspan><tspan x="94">varchar(200)</tspan></text>
<text y="62"><tspan x="4">sign_code</tspan><tspan x="94">varchar(60)</tspan></text>
<text y="77"><tspan x="4">sign_priority</tspan><tspan x="94">varchar(60)</tspan></text>
<text y="92"><tspan x="4">sign_enum</tspan><tspan x="94">int</tspan></text>
<text y="107"><tspan x="4">deactivate_dt</tspan><tspan x="94">datetime</tspan></text>
</g>
<g id="bsm_symptom" transform="translate(1531.5,299.5)">
<rect class="b" width="208" height="117"/><rect class="h" width="208" height="20"/>
<text x="4" y="15.5">bsm_symptom</text>
<text y="32"><tspan x="4">symptom</tspan><tspan x="94">varchar(60)</tspan><tspan x="178">[PK]</tspan></text>
<text y="47"><tspan x="4">symp_desc</tspan><tspan x="94">varchar(200)</tspan></text>
<text y="62"><tspan x="4">symp_code</tspan><tspan x="94">varchar(60)</tspan></text>
<text y="77"><tspan x="4">symp_priority</tspan><tspan x="94">varchar(60)</tspan></text>
<text y="92"><tspan x="4">symp_enum</tspan><tspan x="94">int</tspan></text>
<text y="107"><tspan x="4">deactivate_dt</tspan><tspan x="94">datetime</tspan></text>
</g>

<text x="1534.3" y="1274">Created by SQL::Translator 0.09000</text>
</svg>
